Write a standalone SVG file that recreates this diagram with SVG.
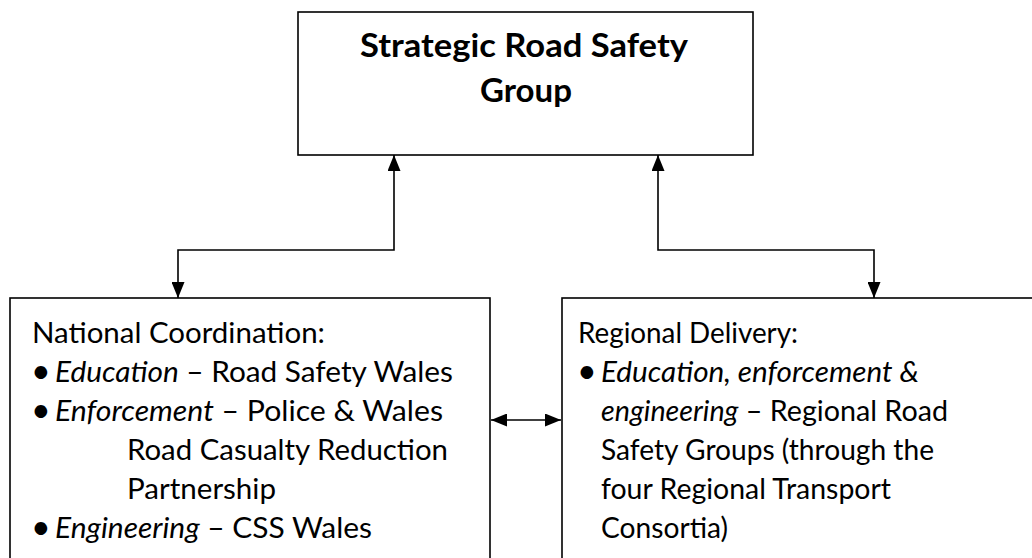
<svg xmlns="http://www.w3.org/2000/svg" width="1032" height="558" viewBox="0 0 1032 558">
<style>
.box{fill:#fff;stroke:#000;stroke-width:1.6}
.t{font-family:Lato,"Liberation Sans",sans-serif;font-size:28px;fill:#000}
.b{font-family:Lato,"Liberation Sans",sans-serif;font-size:34px;fill:#000}
.title{font-family:Lato,"Liberation Sans",sans-serif;font-size:32.5px;font-weight:bold;fill:#000}
.i{font-style:italic}
.c{fill:none;stroke:#000;stroke-width:1.6}
</style>
<defs>
<marker id="ah" markerWidth="16" markerHeight="13" refX="16" refY="6.5" orient="auto-start-reverse" markerUnits="userSpaceOnUse">
<path d="M0,0 L16,6.5 L0,13 Z" fill="#000"/>
</marker>
</defs>
<rect width="1032" height="558" fill="#fff"/>
<g id="strategic">
<rect class="box" x="298" y="12" width="455" height="143"/>
<text class="title" x="524" y="57" text-anchor="middle" textLength="328" lengthAdjust="spacingAndGlyphs">Strategic Road Safety</text>
<text class="title" x="526" y="102" text-anchor="middle" textLength="92" lengthAdjust="spacingAndGlyphs">Group</text>
</g>
<g id="national">
<rect class="box" x="10" y="298" width="480" height="280"/>
<text class="t" x="32" y="343" textLength="293" lengthAdjust="spacingAndGlyphs">National Coordination:</text>
<text class="b" x="31" y="382.5">•</text>
<text class="t" x="55" y="381.5" textLength="398" lengthAdjust="spacingAndGlyphs"><tspan class="i">Education</tspan> – Road Safety Wales</text>
<text class="b" x="31" y="421.5">•</text>
<text class="t" x="55" y="420.5" textLength="388" lengthAdjust="spacingAndGlyphs"><tspan class="i">Enforcement</tspan> – Police &amp; Wales</text>
<text class="t" x="127" y="459.5" textLength="321" lengthAdjust="spacingAndGlyphs">Road Casualty Reduction</text>
<text class="t" x="127" y="498.5" textLength="149" lengthAdjust="spacingAndGlyphs">Partnership</text>
<text class="b" x="31" y="539">•</text>
<text class="t" x="55" y="538" textLength="317" lengthAdjust="spacingAndGlyphs"><tspan class="i">Engineering</tspan> – CSS Wales</text>
</g>
<g id="regional">
<rect class="box" x="562" y="298" width="480" height="280"/>
<text class="t" x="578" y="343" textLength="220" lengthAdjust="spacingAndGlyphs">Regional Delivery:</text>
<text class="b" x="577" y="382.5">•</text>
<text class="t" x="601" y="381.5" textLength="318" lengthAdjust="spacingAndGlyphs"><tspan class="i">Education, enforcement &amp;</tspan></text>
<text class="t" x="601" y="420.5" textLength="347" lengthAdjust="spacingAndGlyphs"><tspan class="i">engineering</tspan> – Regional Road</text>
<text class="t" x="601" y="459.5" textLength="333" lengthAdjust="spacingAndGlyphs">Safety Groups (through the</text>
<text class="t" x="601" y="498.5" textLength="290" lengthAdjust="spacingAndGlyphs">four Regional Transport</text>
<text class="t" x="601" y="538" textLength="127" lengthAdjust="spacingAndGlyphs">Consortia)</text>
</g>
<g id="connectors">
<polyline class="c" points="178,298 178,250 394,250 394,155" marker-start="url(#ah)" marker-end="url(#ah)"/>
<polyline class="c" points="874,298 874,250 658,250 658,155" marker-start="url(#ah)" marker-end="url(#ah)"/>
<line class="c" x1="491" y1="420" x2="561" y2="420" marker-start="url(#ah)" marker-end="url(#ah)"/>
</g>
</svg>
